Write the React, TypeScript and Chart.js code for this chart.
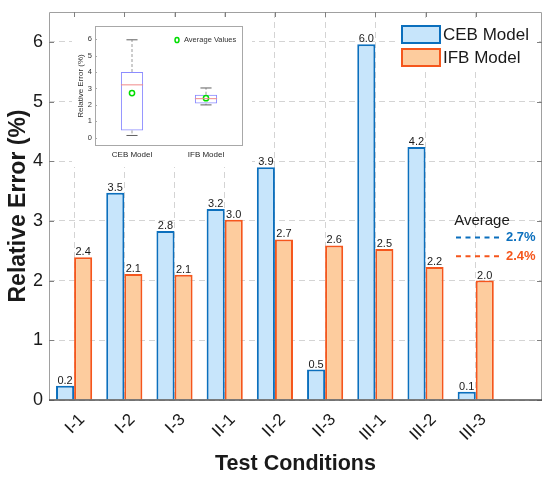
import { useEffect, useRef } from 'react';
import { Chart, registerables } from 'chart.js';

Chart.register(...registerables);

const FONT = "'Liberation Sans', Arial, sans-serif";

// main bar chart data
const categories = ['I-1', 'I-2', 'I-3', 'II-1', 'II-2', 'II-3', 'III-1', 'III-2', 'III-3'];
const cebValues = [0.24, 3.47, 2.83, 3.2, 3.9, 0.51, 5.96, 4.24, 0.14];
const ifbValues = [2.39, 2.11, 2.1, 3.02, 2.69, 2.59, 2.53, 2.23, 2.0];
const yTicks = [0, 1, 2, 3, 4, 5, 6];

// inset box plot data
const boxLabels = ['CEB Model', 'IFB Model'];
const boxMin = [0.14, 2.0];
const boxQ1 = [0.45, 2.08];
const boxMedian = [3.22, 2.38];
const boxQ3 = [4.0, 2.62];
const boxMax = [5.96, 3.03];
const insetTicks = [0, 1, 2, 3, 4, 5, 6];

const CEB_FILL = '#c7e5fb';
const CEB_LINE = '#0b6fbd';
const IFB_FILL = '#fdcc9e';
const IFB_LINE = '#f5561c';
const TEXT = '#1a1a1a';
const GRID = '#d4d4d4';

const mean = (a: number[]) => a.reduce((s, v) => s + v, 0) / a.length;
const means = [mean(cebValues), mean(ifbValues)];

// axis box with small inward ticks, like the original figure
const framePlugin = {
  id: 'frame',
  afterDatasetsDraw(chart: any) {
    const { ctx, chartArea: a, scales } = chart;
    ctx.save();
    ctx.strokeStyle = '#a0a0a0';
    ctx.lineWidth = 1;
    ctx.beginPath();
    ctx.moveTo(a.left + 0.5, a.bottom);
    ctx.lineTo(a.left + 0.5, a.top + 0.5);
    ctx.lineTo(a.right - 0.5, a.top + 0.5);
    ctx.lineTo(a.right - 0.5, a.bottom);
    ctx.stroke();
    ctx.strokeStyle = '#808080';
    ctx.beginPath();
    scales.x.ticks.forEach((t: any) => {
      const x = Math.round(scales.x.getPixelForValue(t.value)) + 0.5;
      ctx.moveTo(x, a.top);
      ctx.lineTo(x, a.top + 5);
    });
    scales.y.ticks.forEach((t: any) => {
      const y = Math.round(scales.y.getPixelForValue(t.value)) + 0.5;
      ctx.moveTo(a.left, y);
      ctx.lineTo(a.left + 5, y);
      ctx.moveTo(a.right, y);
      ctx.lineTo(a.right - 5, y);
    });
    ctx.stroke();
    ctx.strokeStyle = '#505050';
    ctx.lineWidth = 1.5;
    ctx.beginPath();
    ctx.moveTo(a.left, a.bottom);
    ctx.lineTo(a.right, a.bottom);
    ctx.stroke();
    ctx.restore();
  },
};

// rotated category labels, anchored the way MATLAB does it
const xLabelPlugin = {
  id: 'xLabels',
  afterDraw(chart: any) {
    const { ctx, chartArea: a, scales } = chart;
    ctx.save();
    ctx.font = `17px ${FONT}`;
    ctx.fillStyle = TEXT;
    ctx.textAlign = 'right';
    ctx.textBaseline = 'middle';
    scales.x.ticks.forEach((t: any) => {
      const x = scales.x.getPixelForValue(t.value);
      ctx.save();
      ctx.translate(x + 8, a.bottom + 17);
      ctx.rotate(-Math.PI / 4);
      ctx.fillText(categories[Math.round(t.value) - 1], 0, 0);
      ctx.restore();
    });
    ctx.restore();
  },
};

const valueLabelPlugin = {
  id: 'valueLabels',
  afterDatasetsDraw(chart: any) {
    const { ctx } = chart;
    ctx.save();
    ctx.font = `11px ${FONT}`;
    ctx.fillStyle = TEXT;
    ctx.textAlign = 'center';
    ctx.textBaseline = 'alphabetic';
    chart.data.datasets.forEach((ds: any, di: number) => {
      chart.getDatasetMeta(di).data.forEach((bar: any, i: number) => {
        ctx.fillText(ds.data[i].y.toFixed(1), bar.x, bar.y - 2);
      });
    });
    ctx.restore();
  },
};

const legendPlugin = {
  id: 'boxLegend',
  afterDatasetsDraw(chart: any) {
    const { ctx, chartArea: a } = chart;
    const r = a.right;
    ctx.save();
    ctx.fillStyle = '#ffffff';
    ctx.fillRect(r - 145, a.top + 9, 139, 48);
    ctx.font = `17px ${FONT}`;
    ctx.textBaseline = 'middle';
    ctx.textAlign = 'left';
    chart.data.datasets.forEach((ds: any, i: number) => {
      const y = a.top + 14 + i * 23;
      ctx.fillStyle = ds.backgroundColor;
      ctx.fillRect(r - 140, y, 38, 17);
      ctx.strokeStyle = ds.borderColor;
      ctx.lineWidth = 2;
      ctx.strokeRect(r - 140, y, 38, 17);
      ctx.fillStyle = TEXT;
      ctx.fillText(ds.label, r - 99, y + 9);
    });
    ctx.restore();
  },
};

const averagePlugin = {
  id: 'averages',
  afterDatasetsDraw(chart: any) {
    const { ctx, chartArea: a, scales } = chart;
    const r = a.right;
    const colors = [CEB_LINE, IFB_LINE];
    ctx.save();
    const y0 = scales.y.getPixelForValue(means[0]);
    ctx.font = `15px ${FONT}`;
    ctx.fillStyle = TEXT;
    ctx.textAlign = 'center';
    ctx.textBaseline = 'middle';
    ctx.fillText('Average', r - 60, y0 - 17);
    means.forEach((m, i) => {
      const y = scales.y.getPixelForValue(m);
      ctx.strokeStyle = colors[i];
      ctx.lineWidth = 2;
      ctx.setLineDash([5, 4.5]);
      ctx.beginPath();
      ctx.moveTo(r - 86, y);
      ctx.lineTo(r - 39, y);
      ctx.stroke();
      ctx.fillStyle = colors[i];
      ctx.font = `bold 13px ${FONT}`;
      ctx.textAlign = 'left';
      ctx.fillText(`${m.toFixed(1)}%`, r - 36, y);
    });
    ctx.restore();
  },
};

function MainChart() {
  const ref = useRef<HTMLCanvasElement>(null);

  useEffect(() => {
    const chart = new Chart(ref.current!, {
      type: 'bar',
      data: {
        datasets: [
          {
            label: 'CEB Model',
            data: cebValues.map((v, i) => ({ x: i + 1, y: v })),
            backgroundColor: CEB_FILL,
            borderColor: CEB_LINE,
            borderWidth: 2,
            categoryPercentage: 0.72,
            barPercentage: 1,
          },
          {
            label: 'IFB Model',
            data: ifbValues.map((v, i) => ({ x: i + 1, y: v })),
            backgroundColor: IFB_FILL,
            borderColor: IFB_LINE,
            borderWidth: 2,
            categoryPercentage: 0.72,
            barPercentage: 1,
          },
        ],
      } as any,
      options: {
        responsive: false,
        animation: false,
        layout: { padding: { top: 12, right: 8, left: 0, bottom: 0 } },
        plugins: { legend: { display: false }, tooltip: { enabled: false } },
        scales: {
          x: {
            type: 'linear',
            min: 0.5,
            max: 10.32,
            bounds: 'data',
            offset: false,
            grid: { offset: false, color: GRID, drawTicks: false },
            border: { display: false, dash: [6, 4] },
            afterBuildTicks: (s: any) => {
              s.ticks = categories.map((_, i) => ({ value: i + 1 }));
            },
            afterFit: (s: any) => {
              s.height = 77;
              s.paddingLeft = 0;
              s.paddingRight = 0;
            },
            ticks: { display: false },
            title: {
              display: true,
              text: 'Test Conditions',
              color: TEXT,
              font: { size: 21.5, weight: 'bold', family: FONT },
              padding: { top: 0, bottom: 0 },
            },
          },
          y: {
            min: 0,
            max: 6.5,
            bounds: 'data',
            grid: { color: GRID, drawTicks: false },
            border: { display: false, dash: [6, 4] },
            afterBuildTicks: (s: any) => {
              s.ticks = yTicks.map((v) => ({ value: v }));
            },
            afterFit: (s: any) => {
              s.width = 49;
              s.paddingTop = 0;
              s.paddingBottom = 0;
            },
            ticks: {
              padding: 6,
              color: TEXT,
              font: { size: 18, family: FONT },
            },
            title: {
              display: true,
              text: 'Relative Error (%)',
              color: TEXT,
              font: { size: 23, weight: 'bold', family: FONT },
              padding: { top: 5, bottom: 0 },
            },
          },
        },
      } as any,
      plugins: [framePlugin, valueLabelPlugin, legendPlugin, averagePlugin, xLabelPlugin],
    });
    return () => chart.destroy();
  }, []);

  return <canvas ref={ref} width={550} height={477} style={{ position: 'absolute', left: 0, top: 0 }} />;
}

// whiskers, caps, median lines and the small legend of the inset
const boxPlugin = {
  id: 'boxParts',
  afterDatasetsDraw(chart: any) {
    const { ctx, chartArea: a, scales } = chart;
    const boxes = chart.getDatasetMeta(0).data;
    ctx.save();
    boxes.forEach((bar: any, i: number) => {
      const x = bar.x;
      const w = bar.width;
      const yMin = scales.y.getPixelForValue(boxMin[i]);
      const yQ1 = scales.y.getPixelForValue(boxQ1[i]);
      const yQ3 = scales.y.getPixelForValue(boxQ3[i]);
      const yMax = scales.y.getPixelForValue(boxMax[i]);
      const yMed = scales.y.getPixelForValue(boxMedian[i]);
      ctx.strokeStyle = '#9a9a9a';
      ctx.lineWidth = 1;
      ctx.setLineDash([3, 2]);
      ctx.beginPath();
      ctx.moveTo(x, yQ3);
      ctx.lineTo(x, yMax);
      ctx.moveTo(x, yQ1);
      ctx.lineTo(x, yMin);
      ctx.stroke();
      ctx.setLineDash([]);
      ctx.strokeStyle = '#606060';
      ctx.beginPath();
      ctx.moveTo(x - w / 4, yMax);
      ctx.lineTo(x + w / 4, yMax);
      ctx.moveTo(x - w / 4, yMin);
      ctx.lineTo(x + w / 4, yMin);
      ctx.stroke();
      ctx.strokeStyle = '#f08a8a';
      ctx.beginPath();
      ctx.moveTo(x - w / 2, yMed);
      ctx.lineTo(x + w / 2, yMed);
      ctx.stroke();
    });
    // frame
    ctx.strokeStyle = '#a8a8a8';
    ctx.lineWidth = 1;
    ctx.strokeRect(a.left + 0.5, a.top + 0.5, a.right - a.left - 1, a.bottom - a.top - 1);
    ctx.beginPath();
    scales.y.ticks.forEach((t: any) => {
      const y = Math.round(scales.y.getPixelForValue(t.value)) + 0.5;
      ctx.moveTo(a.left, y);
      ctx.lineTo(a.left + 2, y);
    });
    ctx.stroke();
    // legend
    const lx = a.right - 66;
    const ly = a.top + 14;
    ctx.strokeStyle = '#00dd00';
    ctx.fillStyle = '#ffffff';
    ctx.lineWidth = 1.5;
    ctx.beginPath();
    ctx.ellipse(lx, ly, 2, 2.6, 0, 0, Math.PI * 2);
    ctx.fill();
    ctx.stroke();
    ctx.fillStyle = '#333333';
    ctx.font = `7.5px ${FONT}`;
    ctx.textAlign = 'left';
    ctx.textBaseline = 'middle';
    ctx.fillText('Average Values', lx + 7, ly);
    ctx.restore();
  },
};

function InsetChart() {
  const ref = useRef<HTMLCanvasElement>(null);

  useEffect(() => {
    const chart = new Chart(ref.current!, {
      type: 'bar',
      data: {
        labels: boxLabels,
        datasets: [
          {
            type: 'bar',
            label: 'box',
            data: boxQ1.map((q, i) => [q, boxQ3[i]]),
            backgroundColor: 'rgba(0,0,0,0)',
            borderColor: '#8c8cff',
            borderWidth: 1,
            borderSkipped: false,
            barPercentage: 0.3,
            categoryPercentage: 1,
            grouped: false,
            order: 2,
          },
          {
            type: 'line',
            label: 'Average Values',
            data: means,
            showLine: false,
            pointStyle: 'circle',
            pointRadius: 2.6,
            pointBorderWidth: 1.5,
            pointBorderColor: '#00dd00',
            pointBackgroundColor: '#ffffff',
            order: 0,
          },
        ],
      } as any,
      options: {
        responsive: false,
        animation: false,
        layout: { padding: { top: 9, right: 9, left: 0, bottom: 0 } },
        plugins: { legend: { display: false }, tooltip: { enabled: false } },
        scales: {
          x: {
            grid: { display: false, drawTicks: false },
            border: { display: false },
            afterFit: (s: any) => {
              s.height = 21;
              s.paddingLeft = 0;
              s.paddingRight = 0;
            },
            ticks: { color: '#262626', padding: 4, font: { size: 8, family: FONT } },
          },
          y: {
            min: -0.5,
            max: 6.8,
            bounds: 'data',
            grid: { display: false, drawTicks: false },
            border: { display: false },
            afterBuildTicks: (s: any) => {
              s.ticks = insetTicks.map((v) => ({ value: v }));
            },
            afterFit: (s: any) => {
              s.width = 23;
              s.paddingTop = 0;
              s.paddingBottom = 0;
            },
            ticks: { autoSkip: false, color: '#333333', padding: 3, font: { size: 7.5, family: FONT } },
            title: {
              display: true,
              text: 'Relative Error (%)',
              color: '#333333',
              font: { size: 8, family: FONT },
              padding: { top: 4, bottom: 0 },
            },
          },
        },
      } as any,
      plugins: [boxPlugin],
    });
    return () => chart.destroy();
  }, []);

  return (
    <canvas
      ref={ref}
      width={180}
      height={150}
      style={{ position: 'absolute', left: 72, top: 17, background: '#ffffff' }}
    />
  );
}

export default function App() {
  return (
    <div style={{ position: 'absolute', left: 0, top: 0, width: 550, height: 477, background: '#ffffff' }}>
      <MainChart />
      <InsetChart />
    </div>
  );
}
